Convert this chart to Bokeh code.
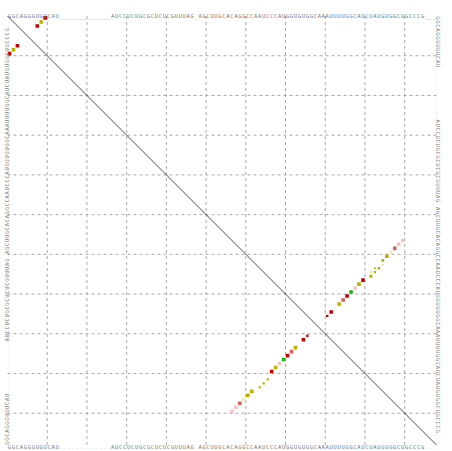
from bokeh.plotting import figure
from bokeh.models import Range1d, ColumnDataSource
from bokeh.core.properties import value
from bokeh.embed import file_html
from bokeh.resources import INLINE
import math

N = 108
seq = ("GGCAGGGUGUCAU" + "_" * 13 +
       "AUCCUCUGCGCUCUCGUUUAG_AGCUUGCACAGGCCAAUCCCAUGGUGUGGCAAAUUUUGGCAUCUAUGUGGCUGCCCG" + "____")

# base pairs (i < j), colour class, square size (fraction of a cell)
pair_i = [1, 2, 3, 57, 58, 59, 60, 61, 62, 64, 65, 66, 67, 68, 69, 70, 71, 72, 73, 75, 76]
pair_j = [10, 9, 8, 100, 99, 98, 97, 96, 95, 94, 93, 92, 90, 89, 88, 87, 86, 85, 84, 82, 81]
pair_cls = ["red", "olive", "red", "pink", "pink", "lightred", "paleyellow", "olive", "olive",
            "olive", "olive", "olive", "red", "olive", "pink", "green", "red", "lightred",
            "olive", "red", "red"]
upper_size = [0.95, 0.9, 0.9, 0.9, 0.9, 0.9, 0.9, 0.9, 0.7, 0.6, 0.55, 0.75, 0.9, 0.9,
              0.9, 0.9, 0.9, 0.9, 0.9, 0.9, 0.6]
lower_size = [0.95, 0.9, 0.9, 0.9, 0.9, 0.9, 0.9, 0.9, 0.9, 0.55, 0.55, 0.55, 0.9, 0.9,
              0.9, 0.9, 0.9, 0.9, 0.9, 0.9, 0.6]
extra_i = [64, 63, 65]
extra_j = [93, 95, 92]
extra_cls = ["olive", "olive", "olive"]
extra_size = [0.45, 0.3, 0.3]

grid_ticks = [10.5, 20.5, 30.5, 40.5, 50.5, 60.5, 70.5, 80.5, 90.5, 100.5]

COLORS = {"red": "#C40000", "olive": "#B9B100", "green": "#18B418", "pink": "#F4C4C4",
          "lightred": "#DC5C5C", "paleyellow": "#F2ECC8"}

CELL = 3.972
W, H = 452, 451
x0_screen, y0_screen = 7.0, 15.5   # position of the grid's top-left corner


def dx(px):
    return 0.5 + (px - x0_screen) / CELL


def dy(px):
    return 0.5 + (px - y0_screen) / CELL


xr = Range1d(dx(0), dx(W))
yr = Range1d(dy(H), dy(0))

p = figure(width=W, height=H, x_range=xr, y_range=yr, output_backend="svg",
           toolbar_location=None, min_border=0, tools="")
p.axis.visible = False
p.grid.visible = False
p.outline_line_color = None
p.background_fill_color = "white"
p.border_fill_color = "white"

# dashed grid
lo, hi = 0.5, N + 0.5
p.segment(x0=grid_ticks, x1=grid_ticks, y0=[lo] * len(grid_ticks), y1=[hi] * len(grid_ticks),
          line_color="#A8A8A8", line_width=1, line_dash="3 3")
p.segment(y0=grid_ticks, y1=grid_ticks, x0=[lo] * len(grid_ticks), x1=[hi] * len(grid_ticks),
          line_color="#A8A8A8", line_width=1, line_dash="3 3")

# diagonal
p.line([lo, hi], [lo, hi], line_color="#000000", line_width=0.7)

# squares
up = ColumnDataSource(dict(x=pair_j, y=pair_i, s=upper_size, c=[COLORS[k] for k in pair_cls]))
dn = ColumnDataSource(dict(x=pair_i, y=pair_j, s=lower_size, c=[COLORS[k] for k in pair_cls]))
ex = ColumnDataSource(dict(x=extra_j, y=extra_i, s=extra_size, c=[COLORS[k] for k in extra_cls]))
for src in (up, dn, ex):
    p.rect(x="x", y="y", width="s", height="s", fill_color="c", line_color=None, source=src)

# sequence labels
pos = list(range(1, N + 1))
rev_pos = [N + 1 - k for k in pos]
font = value("DejaVu Sans Mono")
tcol = "#7A7A7A"
chars = list(seq)
sizes_solid = ["5.5px"] * N
sizes_dashed = ["3.6px" if c == "_" else "5.5px" for c in chars]

top_src = ColumnDataSource(dict(x=pos, y=[dy(15.0)] * N, t=chars, fs=sizes_solid))
bot_src = ColumnDataSource(dict(x=pos, y=[dy(446.0)] * N, t=chars, fs=sizes_dashed))
left_src = ColumnDataSource(dict(x=[dx(6.2)] * N, y=rev_pos, t=chars, fs=sizes_dashed))
right_src = ColumnDataSource(dict(x=[dx(437.0)] * N, y=pos, t=chars, fs=sizes_dashed))

for src, ang in ((top_src, 0.0), (bot_src, 0.0), (left_src, math.pi / 2), (right_src, -math.pi / 2)):
    p.text(x="x", y="y", text="t", source=src, text_font=font, text_font_size="fs",
           text_color=tcol, text_align="center", text_baseline="alphabetic", angle=ang)

open("out.html", "w").write(file_html(p, INLINE))
